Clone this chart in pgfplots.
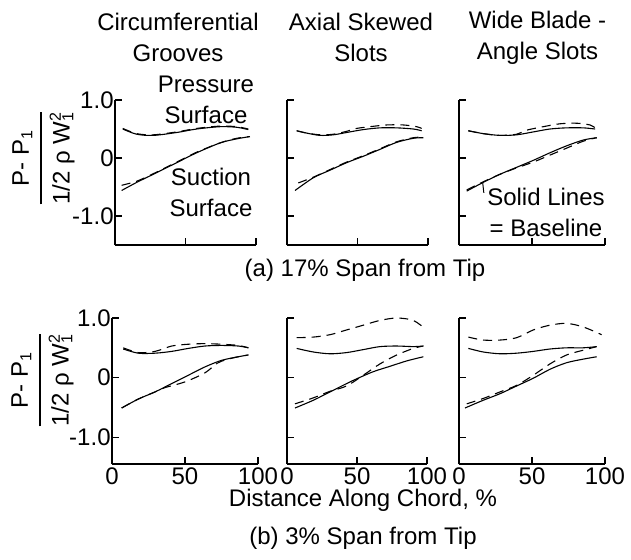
\documentclass[border=0pt]{standalone}
\usepackage{fontspec}
\setmainfont{Liberation Sans}
\usepackage{pgfplots}
\pgfplotsset{compat=1.18}
\pgfplotsset{
  panel/.style={
    scale only axis, axis lines*=left,
    xmin=0, xmax=100, xtick={0,50,100}, ytick={-1,0,1},
    xticklabels={}, yticklabels={},
    tick align=inside, major tick length=3.5pt,
    axis line style={line width=0.7pt, black},
    tick style={line width=0.6pt, black},
    tick label style={font=\fontsize{12}{12}\selectfont},
    yticklabel style={inner sep=0.5pt},
    xticklabel style={inner sep=1.5pt},
    clip=false, anchor=south west,
  },
  toprow/.style={panel, ymin=-1.5, ymax=1.0, height=72.5pt},
  botrow/.style={panel, ymin=-1.45, ymax=1.0, height=73pt},
  sol/.style={line width=0.55pt, black, smooth},
  dsh/.style={line width=0.55pt, black, smooth, dash pattern=on 4.5pt off 3pt},
}
\setlength\arrayrulewidth{0.8pt}
\begin{document}
\fontsize{12}{15.5}\selectfont
\begin{tikzpicture}
\useasboundingbox (0,0) rectangle (315.5pt,-279.5pt);

% ---------- top row: 17% span ----------
\begin{axis}[toprow, at={(57.5pt,-122.5pt)}, width=70.5pt, yticklabels={-1.0,0,1.0}]
\addplot[sol] coordinates {(5.5,0.50)(15.4,0.41)(27.2,0.39)(43.8,0.44)(57.9,0.50)(74.5,0.54)(86.3,0.53)(94.5,0.49)};
\addplot[dsh] coordinates {(5.5,0.51)(15.4,0.42)(27.2,0.40)(43.8,0.45)(57.9,0.51)(74.5,0.55)(86.3,0.54)(94.5,0.50)};
\addplot[sol] coordinates {(4.7,-0.56)(15.4,-0.42)(27.2,-0.28)(43.8,-0.08)(57.9,0.09)(74.5,0.26)(86.3,0.33)(95.7,0.37)};
\addplot[dsh] coordinates {(4.7,-0.47)(15.4,-0.40)(27.2,-0.27)(43.8,-0.07)(57.9,0.10)(74.5,0.26)(86.3,0.34)(95.7,0.37)};
\end{axis}

\begin{axis}[toprow, at={(143.5pt,-122.5pt)}, width=70.5pt]
\addplot[sol] coordinates {(6.9,0.47)(13.9,0.43)(23.4,0.39)(32.8,0.40)(42.3,0.44)(54.1,0.49)(66,0.52)(77.8,0.52)(89.6,0.50)(95.5,0.47)};
\addplot[dsh] coordinates {(6.9,0.47)(13.9,0.43)(23.4,0.40)(32.8,0.41)(42.3,0.46)(49.4,0.51)(58.9,0.54)(70.7,0.57)(82.5,0.57)(92,0.54)(95.5,0.51)};
\addplot[sol] coordinates {(5.7,-0.56)(18.7,-0.34)(30.5,-0.21)(42.3,-0.08)(54.1,0.03)(66,0.15)(77.8,0.27)(89.6,0.34)(96.7,0.35)};
\addplot[dsh] coordinates {(8,-0.43)(18.7,-0.33)(30.5,-0.20)(42.3,-0.07)(54.1,0.04)(66,0.16)(77.8,0.28)(89.6,0.35)(96.7,0.36)};
\end{axis}

\begin{axis}[toprow, at={(229.5pt,-122.5pt)}, width=73pt]
\addplot[sol] coordinates {(6.4,0.47)(16.7,0.42)(28.1,0.39)(39.5,0.40)(50.9,0.45)(62.3,0.50)(73.7,0.52)(85.1,0.52)(93.2,0.50)};
\addplot[dsh] coordinates {(6.4,0.47)(16.7,0.42)(28.1,0.39)(39.5,0.41)(46.4,0.48)(57.7,0.54)(69.2,0.59)(80.6,0.60)(89.7,0.57)(93.2,0.52)};
\addplot[sol] coordinates {(5.3,-0.57)(16.6,-0.42)(28.1,-0.28)(39.5,-0.16)(50.9,-0.04)(62.3,0.09)(73.7,0.21)(85.1,0.31)(94.3,0.35)};
\addplot[dsh] coordinates {(5.3,-0.55)(16.6,-0.41)(28.1,-0.28)(39.5,-0.17)(50.9,-0.07)(62.3,0.05)(73.7,0.17)(85.1,0.29)(94.3,0.35)};
\addplot[line width=0.5pt, black] coordinates {(16.2,-0.42)(17.0,-0.60)};
\end{axis}

% ---------- bottom row: 3% span ----------
\begin{axis}[botrow, at={(56pt,-232pt)}, width=73pt, yticklabels={-1.0,0,1.0}, xticklabels={0,50,100}]
\addplot[sol] coordinates {(7.7,0.48)(18,0.41)(29.5,0.41)(40.9,0.44)(52.3,0.49)(63.7,0.53)(75.1,0.54)(86.5,0.53)(93.4,0.50)};
\addplot[dsh] coordinates {(7.7,0.50)(18,0.42)(29.5,0.44)(40.9,0.53)(52.3,0.56)(63.7,0.57)(75.1,0.56)(86.5,0.54)(93.4,0.50)};
\addplot[sol] coordinates {(6.6,-0.51)(18,-0.36)(29.5,-0.24)(40.9,-0.10)(52.3,0.04)(63.7,0.18)(75.1,0.29)(86.5,0.35)(93.4,0.38)};
\addplot[dsh] coordinates {(6.6,-0.51)(18,-0.36)(29.5,-0.24)(36,-0.17)(45,-0.11)(52.3,-0.05)(63.7,0.08)(72,0.24)(78,0.30)(86.5,0.35)(93.4,0.38)};
\end{axis}

\begin{axis}[botrow, at={(143.5pt,-232pt)}, width=70pt, xticklabels={0,50,100}]
\addplot[sol] coordinates {(6.9,0.49)(18.8,0.43)(30.7,0.40)(42.6,0.42)(54.5,0.47)(66.4,0.52)(78.4,0.53)(90.2,0.52)(97.4,0.53)};
\addplot[dsh] coordinates {(6.9,0.67)(18.8,0.68)(30.7,0.72)(42.6,0.80)(54.5,0.88)(66.4,0.96)(78.4,1.00)(90.2,0.96)(98.6,0.82)};
\addplot[sol] coordinates {(5.7,-0.51)(18.8,-0.38)(30.7,-0.24)(42.6,-0.10)(49.8,-0.02)(61.7,0.10)(73.6,0.19)(85.5,0.28)(97.4,0.35)};
\addplot[dsh] coordinates {(5.7,-0.44)(18.8,-0.34)(30.7,-0.23)(42.6,-0.14)(54.5,0.04)(66.4,0.23)(78.4,0.38)(90.2,0.49)(97.4,0.53)};
\end{axis}

\begin{axis}[botrow, at={(229.5pt,-232pt)}, width=73pt, xticklabels={0,50,100}]
\addplot[sol] coordinates {(6.4,0.49)(16.6,0.43)(28.1,0.40)(39.5,0.41)(50.9,0.44)(62.3,0.48)(73.7,0.50)(85.1,0.50)(94.3,0.52)};
\addplot[dsh] coordinates {(6.4,0.68)(16.6,0.63)(28.1,0.63)(39.5,0.67)(50.9,0.80)(62.3,0.88)(73.7,0.91)(85.1,0.85)(97.7,0.72)};
\addplot[sol] coordinates {(4.1,-0.51)(16.6,-0.38)(28.1,-0.27)(39.5,-0.14)(50.9,-0.01)(62.3,0.14)(73.7,0.25)(85.1,0.31)(94.3,0.35)};
\addplot[dsh] coordinates {(5.3,-0.44)(16.6,-0.35)(28.1,-0.24)(39.5,-0.13)(50.9,0.04)(62.3,0.23)(73.7,0.38)(85.1,0.46)(94.3,0.52)};
\end{axis}

% ---------- texts ----------
\node[align=center] at (89pt,-18.75pt) {Circumferential\\Grooves};
\node[align=center] at (180.5pt,-18.75pt) {Axial Skewed\\Slots};
\node[align=center] at (268.75pt,-18.75pt) {Wide Blade -\\Angle Slots};
\node[align=center] at (103pt,-50pt) {Pressure\\Surface};
\node[align=center] at (105.5pt,-96pt) {Suction\\Surface};
\node[align=center] at (273pt,-106pt) {Solid Lines\\= Baseline};
\node at (182.5pt,-135pt) {(a) 17\% Span from Tip};
\node at (181.5pt,-250pt) {Distance Along Chord, \%};
\node at (181.5pt,-269pt) {(b) 3\% Span from Tip};
\node[rotate=90, inner sep=0pt] at (21.5pt,-79pt) {\begin{tabular}{@{}c@{}}P- P\textsubscript{1}\\[1pt]\hline\rule{0pt}{14pt}1/2 ρ W\rlap{\textsubscript{1}}\textsuperscript{2}\end{tabular}};
\node[rotate=90, inner sep=0pt] at (21pt,-190pt) {\begin{tabular}{@{}c@{}}P- P\textsubscript{1}\\[1pt]\hline\rule{0pt}{14pt}1/2 ρ W\rlap{\textsubscript{1}}\textsuperscript{2}\end{tabular}};
\end{tikzpicture}
\end{document}
